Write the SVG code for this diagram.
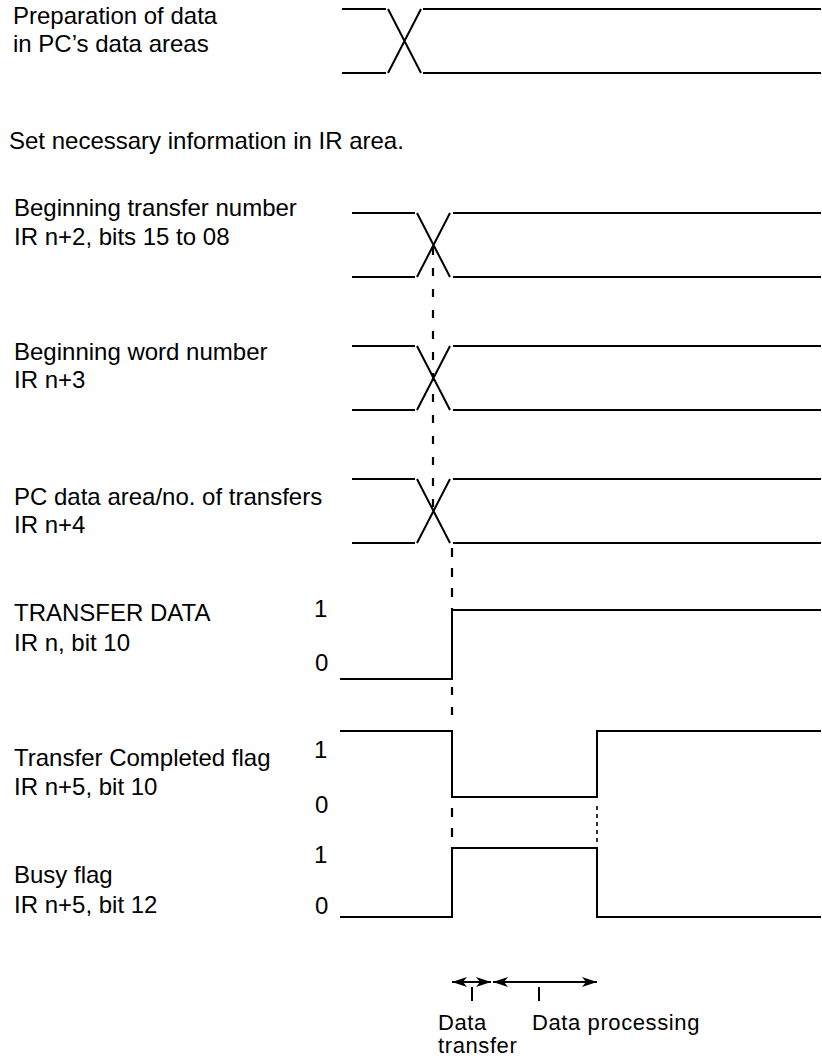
<svg xmlns="http://www.w3.org/2000/svg" width="822" height="1059" viewBox="0 0 822 1059">
<style>
text{font-family:"Liberation Sans",Arial,Helvetica,sans-serif;font-size:24px;fill:#000}
.s{font-size:22px;letter-spacing:0.6px}
.w{fill:none;stroke:#000;stroke-width:2}
.d{fill:none;stroke:#000;stroke-width:2.2;stroke-dasharray:8 13}
.dd{fill:none;stroke:#000;stroke-width:1.6;stroke-dasharray:4 4}
.a{fill:none;stroke:#000;stroke-width:2}
</style>
<defs>
<marker id="ah" viewBox="0 0 15 10" refX="15" refY="5" markerWidth="15" markerHeight="10" markerUnits="userSpaceOnUse" orient="auto-start-reverse">
<path d="M0,0 L15,5 L0,10 L4,5 z" fill="#000"/>
</marker>
</defs>
<rect width="822" height="1059" fill="#fff"/>

<g id="prep">
<text x="13" y="24">Preparation of data</text>
<text x="13" y="52">in PC’s data areas</text>
<path class="w" d="M342,9 H386 M388,9 L421,73 M388,73 L421,9 M423,9 H821 M342,73 H386 M423,73 H821"/>
</g>

<g id="setinfo">
<text x="9" y="149">Set necessary information in IR area.</text>
</g>

<g id="beg-transfer">
<text x="14" y="216">Beginning transfer number</text>
<text x="14" y="245">IR n+2, bits 15 to 08</text>
<path class="w" d="M352,213 H415 M417,213 L450,277 M417,277 L450,213 M453,213 H821 M352,277 H415 M453,277 H821"/>
</g>

<g id="beg-word">
<text x="14" y="360">Beginning word number</text>
<text x="14" y="388">IR n+3</text>
<path class="w" d="M352,346 H415 M417,346 L450,410 M417,410 L450,346 M453,346 H821 M352,410 H415 M453,410 H821"/>
</g>

<g id="pc-area">
<text x="14" y="505">PC data area/no. of transfers</text>
<text x="14" y="533">IR n+4</text>
<path class="w" d="M352,479 H415 M417,479 L450,543 M417,543 L450,479 M453,479 H821 M352,543 H415 M453,543 H821"/>
</g>

<g id="transfer-data">
<text x="14" y="621">TRANSFER DATA</text>
<text x="14" y="651">IR n, bit 10</text>
<text x="314" y="617">1</text>
<text x="315" y="671">0</text>
<path class="w" d="M340,679 H452 V610 H821"/>
</g>

<g id="transfer-completed">
<text x="14" y="766">Transfer Completed flag</text>
<text x="14" y="795">IR n+5, bit 10</text>
<text x="314" y="758">1</text>
<text x="315" y="813">0</text>
<path class="w" d="M340,731 H452 V797 H597 V731 H821"/>
</g>

<g id="busy">
<text x="14" y="883">Busy flag</text>
<text x="14" y="913">IR n+5, bit 12</text>
<text x="314" y="863">1</text>
<text x="315" y="914">0</text>
<path class="w" d="M340,917 H452 V848 H597 V917 H821"/>
</g>

<g id="connectors">
<path class="d" d="M433,247 V511"/>
<path class="d" d="M452,548 V610" style="stroke-dasharray:9 11"/>
<path class="d" d="M452,687 V725" style="stroke-dasharray:8 12"/>
<path class="d" d="M452,808 V845" style="stroke-dasharray:9 11"/>
<path class="dd" d="M597,806 V843"/>
</g>

<g id="timing">
<path class="a" d="M452,982 H491" marker-start="url(#ah)" marker-end="url(#ah)"/>
<path class="a" d="M493,982 H597" marker-start="url(#ah)" marker-end="url(#ah)"/>
<path class="a" d="M472,987 V1001 M539,987 V1001"/>
<text class="s" x="438" y="1030">Data</text>
<text class="s" x="438" y="1053">transfer</text>
<text class="s" x="532" y="1030">Data processing</text>
</g>
</svg>
